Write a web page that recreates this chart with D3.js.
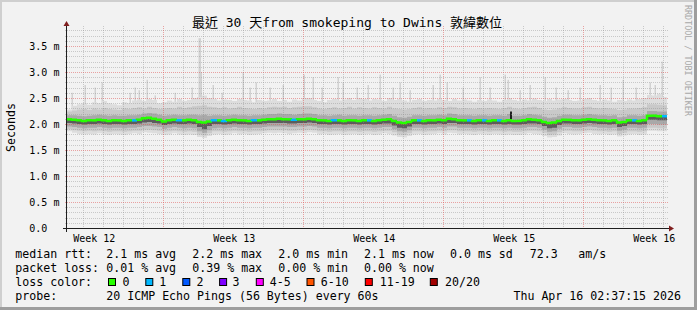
<!DOCTYPE html>
<html><head><meta charset="utf-8">
<script src="https://cdn.jsdelivr.net/npm/d3@7"></script>
<style>
html,body{margin:0;padding:0;background:#f2f2f2;}
svg{display:block;}
text{font-family:"DejaVu Sans Mono","Noto Sans CJK TC",monospace;}
</style></head><body>
<svg id="chart" width="697" height="310"></svg>
<script>
// ---------------- DATA ----------------
const titleText = "最近 30 天from smokeping to Dwins 敦緯數位";
const yTicks = [0, 0.5, 1.0, 1.5, 2.0, 2.5, 3.0, 3.5];
const yTickLabels = ["0.0", "0.5 m", "1.0 m", "1.5 m", "2.0 m", "2.5 m", "3.0 m", "3.5 m"];
const xLabelDays = [1.34, 8.34, 15.34, 22.34, 29.34];
const xLabels = ["Week 12", "Week 13", "Week 14", "Week 15", "Week 16"];
const weekStartDays = [4.8, 11.8, 18.8, 25.8];
const dayTickDays = [0.8,1.8,2.8,3.8,4.8,5.8,6.8,7.8,8.8,9.8,10.8,11.8,12.8,13.8,14.8,15.8,16.8,17.8,18.8,19.8,20.8,21.8,22.8,23.8,24.8,25.8,26.8,27.8,28.8,29.8];
const totalDays = 30;
const colDays = 0.25; // each data column = 6 h

// median rtt (ms), one value per 6 h column
const median = [2.09,2.08,2.07,2.06,2.07,2.07,2.08,2.07,2.06,2.07,
 2.07,2.06,2.07,2.07,2.08,2.11,2.12,2.10,2.08,2.05,
 2.07,2.08,2.07,2.07,2.08,2.07,2.04,2.03,2.05,2.07,
 2.07,2.06,2.07,2.08,2.07,2.07,2.06,2.07,2.07,2.08,
 2.09,2.09,2.10,2.09,2.09,2.08,2.09,2.09,2.10,2.09,
 2.07,2.07,2.06,2.07,2.07,2.06,2.07,2.07,2.06,2.07,
 2.07,2.06,2.07,2.08,2.09,2.06,2.03,2.02,2.04,2.07,
 2.07,2.06,2.07,2.07,2.08,2.07,2.10,2.09,2.07,2.07,
 2.07,2.06,2.07,2.07,2.06,2.07,2.07,2.06,2.07,2.06,
 2.06,2.07,2.09,2.08,2.07,2.04,2.02,2.03,2.06,2.08,
 2.08,2.07,2.07,2.08,2.09,2.08,2.07,2.07,2.06,2.07,
 2.03,2.04,2.07,2.07,2.06,2.07,2.16,2.16,2.15,2.15];

// packet loss class per column (index into lossColors)
const loss = [0,0,0,0,0,0,0,0,0,0, 0,0,0,1,0,0,0,0,0,0,
 0,0,1,0,0,0,0,0,0,1, 0,1,0,0,0,0,0,1,0,0,
 0,0,0,0,0,1,0,0,0,0, 0,0,0,1,0,0,0,0,0,0,
 1,0,0,0,0,0,0,0,0,0, 1,0,0,0,0,0,0,0,0,0,
 1,0,0,1,0,0,1,0,0,0, 0,0,0,0,0,0,0,0,0,0,
 0,0,0,0,0,0,0,0,0,0, 0,0,0,1,0,0,0,0,0,1];

// smoke envelopes (ms)
const smokeTop1 = [2.28,2.35,2.38,2.40,2.37,2.42,2.40,2.44,2.40,2.38,
 2.36,2.42,2.40,2.45,2.47,2.44,2.48,2.46,2.40,2.42,
 2.45,2.43,2.48,2.44,2.46,2.50,2.52,2.55,2.50,2.48,
 2.45,2.47,2.46,2.44,2.48,2.46,2.45,2.42,2.46,2.44,
 2.45,2.48,2.44,2.46,2.43,2.47,2.45,2.50,2.50,2.46,
 2.44,2.42,2.46,2.48,2.45,2.47,2.50,2.46,2.50,2.48,
 2.45,2.48,2.47,2.44,2.50,2.46,2.48,2.45,2.43,2.46,
 2.48,2.44,2.46,2.45,2.48,2.46,2.44,2.48,2.45,2.47,
 2.45,2.43,2.46,2.44,2.47,2.45,2.43,2.46,2.50,2.46,
 2.44,2.47,2.45,2.49,2.46,2.44,2.48,2.45,2.47,2.48,
 2.46,2.44,2.45,2.48,2.50,2.46,2.44,2.47,2.45,2.43,
 2.46,2.44,2.47,2.45,2.48,2.50,2.56,2.55,2.58,2.52];
const smokeTop2 = [2.24,2.26,2.28,2.29,2.27,2.30,2.28,2.31,2.29,2.28,
 2.27,2.30,2.29,2.31,2.32,2.30,2.33,2.31,2.29,2.30,
 2.31,2.30,2.33,2.31,2.32,2.34,2.35,2.36,2.33,2.32,
 2.31,2.32,2.30,2.31,2.33,2.31,2.30,2.29,2.31,2.30,
 2.32,2.33,2.32,2.33,2.31,2.32,2.33,2.34,2.34,2.32,
 2.30,2.29,2.31,2.32,2.30,2.31,2.33,2.30,2.32,2.31,
 2.30,2.32,2.31,2.30,2.33,2.30,2.29,2.28,2.29,2.31,
 2.32,2.30,2.31,2.30,2.32,2.31,2.33,2.32,2.30,2.31,
 2.30,2.29,2.31,2.30,2.31,2.30,2.29,2.31,2.33,2.30,
 2.29,2.31,2.32,2.33,2.31,2.28,2.27,2.28,2.30,2.32,
 2.31,2.30,2.30,2.32,2.33,2.31,2.30,2.31,2.30,2.29,
 2.27,2.28,2.30,2.30,2.31,2.32,2.38,2.38,2.37,2.36];
const smokeTop3 = [2.17,2.17,2.16,2.15,2.16,2.17,2.18,2.17,2.16,2.17,
 2.16,2.16,2.17,2.17,2.18,2.20,2.21,2.20,2.18,2.16,
 2.17,2.18,2.17,2.17,2.18,2.18,2.17,2.18,2.16,2.17,
 2.17,2.16,2.17,2.18,2.17,2.17,2.16,2.17,2.17,2.18,
 2.19,2.19,2.20,2.19,2.19,2.18,2.19,2.20,2.20,2.19,
 2.17,2.17,2.16,2.17,2.18,2.16,2.17,2.17,2.16,2.17,
 2.17,2.16,2.17,2.18,2.19,2.16,2.13,2.12,2.14,2.17,
 2.17,2.16,2.17,2.17,2.18,2.17,2.20,2.19,2.17,2.17,
 2.17,2.16,2.17,2.17,2.16,2.17,2.17,2.16,2.19,2.16,
 2.16,2.17,2.19,2.18,2.17,2.14,2.12,2.13,2.16,2.18,
 2.18,2.17,2.17,2.18,2.19,2.18,2.17,2.17,2.16,2.17,
 2.13,2.14,2.17,2.17,2.16,2.17,2.25,2.25,2.24,2.24];
const smokeBot4 = [2.02,2.01,2.00,1.99,2.00,2.00,2.01,2.00,1.99,2.00,
 2.00,1.99,2.00,2.00,2.01,2.03,2.04,2.02,2.01,1.98,
 2.00,2.01,2.00,2.00,2.01,2.00,1.94,1.90,1.96,2.00,
 2.00,1.99,2.00,2.01,2.00,2.00,1.99,2.00,2.00,2.01,
 2.02,2.02,2.02,2.02,2.01,2.01,2.02,2.02,2.03,2.02,
 2.00,2.00,1.99,2.00,2.00,1.99,2.00,2.00,1.99,2.00,
 2.00,1.99,2.00,2.01,2.01,1.97,1.93,1.92,1.95,2.00,
 2.00,1.99,2.00,2.00,2.01,2.00,2.02,2.02,2.00,2.00,
 2.00,1.99,2.00,2.00,1.99,2.00,2.00,1.99,2.00,1.99,
 1.99,2.00,2.01,2.01,2.00,1.96,1.92,1.93,1.98,2.01,
 2.01,2.00,2.00,2.01,2.02,2.01,2.00,2.00,1.99,2.00,
 1.94,1.96,2.00,2.00,1.99,2.00,2.08,2.08,2.07,2.07];
const smokeBot3 = [1.95,1.94,1.93,1.92,1.93,1.93,1.94,1.93,1.92,1.93,
 1.93,1.92,1.93,1.93,1.94,1.96,1.96,1.95,1.94,1.91,
 1.93,1.94,1.93,1.92,1.93,1.92,1.86,1.83,1.88,1.92,
 1.93,1.92,1.93,1.94,1.93,1.93,1.92,1.93,1.93,1.94,
 1.95,1.95,1.95,1.95,1.94,1.94,1.95,1.95,1.96,1.95,
 1.93,1.93,1.92,1.93,1.93,1.92,1.93,1.93,1.92,1.93,
 1.93,1.92,1.93,1.94,1.94,1.90,1.86,1.85,1.88,1.93,
 1.93,1.92,1.93,1.93,1.94,1.93,1.95,1.95,1.93,1.93,
 1.93,1.92,1.93,1.93,1.92,1.93,1.93,1.92,1.93,1.92,
 1.92,1.93,1.94,1.94,1.93,1.89,1.85,1.86,1.91,1.94,
 1.94,1.93,1.93,1.94,1.95,1.94,1.93,1.93,1.92,1.93,
 1.87,1.89,1.93,1.93,1.92,1.93,2.00,2.00,1.99,1.99];
const smokeBot2 = [1.90,1.88,1.87,1.86,1.87,1.86,1.87,1.86,1.85,1.86,
 1.86,1.85,1.86,1.87,1.87,1.89,1.89,1.88,1.87,1.85,
 1.86,1.87,1.86,1.85,1.86,1.85,1.80,1.78,1.82,1.86,
 1.86,1.85,1.86,1.87,1.86,1.86,1.85,1.86,1.86,1.87,
 1.88,1.88,1.88,1.88,1.87,1.87,1.88,1.88,1.89,1.88,
 1.86,1.86,1.85,1.86,1.86,1.85,1.86,1.86,1.85,1.86,
 1.86,1.85,1.86,1.87,1.87,1.84,1.80,1.79,1.82,1.86,
 1.86,1.85,1.86,1.86,1.87,1.86,1.88,1.88,1.86,1.86,
 1.86,1.85,1.86,1.86,1.85,1.86,1.86,1.85,1.86,1.85,
 1.85,1.86,1.87,1.87,1.86,1.83,1.79,1.80,1.84,1.87,
 1.87,1.86,1.86,1.87,1.88,1.87,1.86,1.86,1.85,1.86,
 1.81,1.83,1.86,1.86,1.85,1.86,1.93,1.93,1.92,1.92];
const smokeBot1 = [1.86,1.83,1.81,1.80,1.81,1.80,1.82,1.80,1.79,1.81,
 1.80,1.79,1.81,1.82,1.81,1.84,1.83,1.82,1.81,1.79,
 1.80,1.82,1.80,1.79,1.80,1.79,1.75,1.73,1.77,1.80,
 1.81,1.79,1.80,1.82,1.80,1.81,1.79,1.80,1.81,1.82,
 1.83,1.82,1.83,1.82,1.81,1.82,1.83,1.82,1.84,1.83,
 1.80,1.81,1.79,1.80,1.81,1.79,1.80,1.81,1.79,1.80,
 1.81,1.79,1.80,1.82,1.81,1.78,1.75,1.74,1.77,1.80,
 1.81,1.79,1.80,1.81,1.82,1.80,1.83,1.82,1.80,1.81,
 1.80,1.79,1.81,1.80,1.79,1.81,1.80,1.79,1.80,1.79,
 1.79,1.80,1.82,1.81,1.80,1.77,1.74,1.75,1.78,1.82,
 1.81,1.80,1.81,1.82,1.83,1.81,1.80,1.81,1.79,1.80,
 1.76,1.78,1.80,1.81,1.79,1.80,1.87,1.87,1.86,1.86];

// isolated max-ping spikes (day position, top in ms)
const spikeDays = [0.25,0.9,1.4,1.75,3.15,3.4,3.6,4.0,4.4,5.4,6.25,6.6,6.7,7.3,7.75,8.8,9.15,9.45,10.15,10.8,11.85,12.3,12.75,13.55,13.8,14.5,15.05,15.65,16.3,16.65,17.15,18.3,18.65,19.0,19.8,20.65,21.15,21.9,22.05,22.65,23.15,23.9,24.45,25.05,25.65,26.65,27.2,27.8,28.45,29.15,29.4,29.75];
const spikeTops = [2.6,2.75,2.7,2.8,2.6,2.7,2.65,2.85,2.55,2.6,2.7,3.65,3.0,2.75,2.6,3.0,2.7,2.8,2.7,2.75,2.95,2.9,2.7,2.9,2.8,2.7,2.75,2.95,2.7,2.8,2.65,2.75,2.95,2.8,2.7,2.9,2.7,2.95,2.85,2.65,2.75,2.9,2.7,2.65,2.7,2.75,2.7,2.85,2.7,2.8,2.75,3.2];
const darkSpikeDays = [22.15];
const darkSpikeTops = [2.24];
const darkSpikeBots = [2.08];

const lossLabels = ["0", "1", "2", "3", "4-5", "6-10", "11-19", "20/20"];
const lossColors = ["#26ff00", "#00b8ff", "#0059ff", "#7e00ff", "#ff00ff", "#ff5500", "#ff0000", "#a10000"];

const rttRow = ["median rtt:", "2.1 ms avg", "2.2 ms max", "2.0 ms min", "2.1 ms now", "0.0 ms sd", "72.3", "am/s"];
const lossRow = ["packet loss:", "0.01 % avg", "0.39 % max", "0.00 % min", "0.00 % now"];
const probeRow = ["probe:", "20 ICMP Echo Pings (56 Bytes) every 60s", "Thu Apr 16 02:37:15 2026"];
const sideText = "RRDTOOL / TOBI OETIKER";

// ---------------- DRAW ----------------
const svg = d3.select("#chart");
const W = 697, H = 310;
const X0 = 67, X1 = 667, Y0 = 228, Y1 = 28;
const x = d3.scaleLinear().domain([0, totalDays]).range([X0, X1]);
const y = d3.scaleLinear().domain([0, (Y0 - Y1) / 52]).range([Y0, Y1]);

// frame
svg.append("rect").attr("width", W).attr("height", H).attr("fill", "#f2f2f2");
svg.append("path").attr("d", `M0,0H${W}V2H2V${H}H0Z`).attr("fill", "#cfcfcf");
svg.append("path").attr("d", `M${W},${H}H0V${H-3}H${W-3}V0H${W}Z`).attr("fill", "#9e9e9e");

const n = median.length;
const idx = d3.range(n + 1);
const cl = i => Math.min(i, n - 1);
const band = (top, bot) => d3.area().curve(d3.curveStepAfter)
  .x(i => x(i * colDays)).y0(i => y(bot[cl(i)])).y1(i => y(top[cl(i)]))(idx);

const gSmoke = svg.append("g");
// spikes underneath
gSmoke.selectAll("rect.sp").data(spikeDays).join("rect")
  .attr("x", (d) => Math.round(x(d)) - 0.5).attr("width", (d, i) => spikeTops[i] > 3.3 ? 2.5 : 1.5)
  .attr("y", (d, i) => y(spikeTops[i])).attr("height", (d, i) => y(2.3) - y(spikeTops[i]))
  .attr("fill", "#d2d2d2");
gSmoke.append("path").attr("d", band(smokeTop1, smokeBot1)).attr("fill", "#dddddd");
gSmoke.append("path").attr("d", band(smokeTop2, smokeBot2)).attr("fill", "#c9c9c9");
gSmoke.append("path").attr("d", band(smokeTop3, smokeBot3)).attr("fill", "#a9a9a9");
gSmoke.append("path").attr("d", band(median, smokeBot4)).attr("fill", "#5c5c5c");
gSmoke.selectAll("rect.ds").data(darkSpikeDays).join("rect")
  .attr("x", d => Math.round(x(d))).attr("width", 2)
  .attr("y", (d, i) => y(darkSpikeTops[i])).attr("height", (d, i) => y(darkSpikeBots[i]) - y(darkSpikeTops[i]))
  .attr("fill", "#202020");

// grid
const gGrid = svg.append("g").attr("shape-rendering", "crispEdges");
const minorY = d3.range(1, 39).map(v => v / 10).filter(v => Math.abs(v * 2 - Math.round(v * 2)) > 1e-6);
const gridCol = "rgba(143,143,143,0.42)", mgridCol = "rgba(222,79,79,0.5)";
minorY.forEach(v => {
  const yy = Math.round(y(v)) + 0.5;
  gGrid.append("line").attr("x1", X0 - 2).attr("x2", X1 + 2).attr("y1", yy).attr("y2", yy)
    .attr("stroke", gridCol).attr("stroke-dasharray", "1,1");
});
dayTickDays.filter(d => !weekStartDays.includes(d)).forEach(d => {
  const xx = Math.round(x(d)) + 0.5;
  gGrid.append("line").attr("x1", xx).attr("x2", xx).attr("y1", Y1 - 2).attr("y2", Y0 + 2)
    .attr("stroke", gridCol).attr("stroke-dasharray", "1,1");
});
yTicks.filter(v => v > 0).forEach(v => {
  const yy = Math.round(y(v)) + 0.5;
  gGrid.append("line").attr("x1", X0 - 2).attr("x2", X1 + 2).attr("y1", yy).attr("y2", yy)
    .attr("stroke", mgridCol).attr("stroke-dasharray", "1,1");
});
weekStartDays.forEach(d => {
  const xx = Math.round(x(d)) + 0.5;
  gGrid.append("line").attr("x1", xx).attr("x2", xx).attr("y1", Y1 - 2).attr("y2", Y0 + 2)
    .attr("stroke", mgridCol).attr("stroke-dasharray", "1,1");
});

// median line coloured by loss
const gMed = svg.append("g");
median.forEach((m, k) => {
  const prev = k > 0 ? median[k - 1] : m;
  gMed.append("path")
    .attr("d", `M${x(k * colDays)},${y(prev)}V${y(m)}H${x((k + 1) * colDays)}`)
    .attr("fill", "none").attr("stroke", lossColors[loss[k]]).attr("stroke-width", 2.5);
});

// axes lines + arrows
const axisCol = "#1f1f1f", arrowCol = "#801f1f";
svg.append("line").attr("x1", X0 - 4).attr("x2", X1 + 4).attr("y1", Y0 + 0.5).attr("y2", Y0 + 0.5).attr("stroke", axisCol);
svg.append("line").attr("x1", X0 - 0.5).attr("x2", X0 - 0.5).attr("y1", Y0 + 4).attr("y2", Y1 - 4).attr("stroke", axisCol);
svg.append("path").attr("d", `M${X1 + 2},${Y0 - 2.5}L${X1 + 7},${Y0 + 0.5}L${X1 + 2},${Y0 + 3.5}Z`).attr("fill", arrowCol);
svg.append("path").attr("d", `M${X0 - 3.5},${Y1 - 2}L${X0 - 0.5},${Y1 - 7}L${X0 + 2.5},${Y1 - 2}Z`).attr("fill", arrowCol);

// y axis labels via d3 axis
const yAxis = d3.axisLeft(y).tickValues(yTicks).tickFormat((d, i) => yTickLabels[i]).tickSize(0);
const gy = svg.append("g").attr("transform", `translate(${X0},0)`).call(yAxis);
gy.select(".domain").remove();
gy.selectAll("text").attr("text-anchor", "start").attr("x", 29.3 - X0).attr("dy", "0.36em")
  .attr("font-family", "DejaVu Sans Mono").attr("font-size", 10).attr("fill", "#000");

// x axis labels via d3 axis
const xAxis = d3.axisBottom(x).tickValues(xLabelDays).tickFormat((d, i) => xLabels[i]).tickSize(0);
const gx = svg.append("g").attr("transform", `translate(0,${Y0})`).call(xAxis);
gx.select(".domain").remove();
gx.selectAll("text").attr("y", 13.7).attr("dy", null)
  .attr("font-family", "DejaVu Sans Mono").attr("font-size", 10).attr("fill", "#000");

// title
svg.append("text").attr("x", 347).attr("y", 26.5).attr("text-anchor", "middle")
  .attr("font-size", 13).attr("fill", "#000").text(titleText);

// vertical label
svg.append("text").attr("transform", "translate(14.5,127.5) rotate(-90)").attr("text-anchor", "middle")
  .attr("font-size", 11.6).attr("fill", "#000").text("Seconds");

// side watermark
svg.append("text").attr("transform", "translate(685,5) rotate(90)").attr("text-anchor", "start")
  .attr("font-size", 8.4).attr("fill", "#a8a8a8").text(sideText);

// legend
const LF = 11.6;
const leg = svg.append("g").attr("font-size", LF).attr("fill", "#000");
const rowY = [258.3, 272.1, 286, 299.9];
const rttX = [15.3, 106.3, 192.3, 278.3, 364, 450, 529.7, 578.3];
rttRow.forEach((t, i) => leg.append("text").attr("x", rttX[i]).attr("y", rowY[0]).text(t));
const lossX = [15.3, 106.3, 192.3, 278.3, 364];
lossRow.forEach((t, i) => leg.append("text").attr("x", lossX[i]).attr("y", rowY[1]).text(t));
leg.append("text").attr("x", 15.3).attr("y", rowY[2]).text("loss color:");
const boxX = [108.5, 145.8, 182.8, 219.6, 256.3, 307, 365.3, 430.3];
const boxLabelX = [122.4, 159.2, 196.4, 232.4, 269.8, 320.8, 379.8, 445.1];
lossLabels.forEach((t, i) => {
  leg.append("rect").attr("x", boxX[i]).attr("y", 278.5).attr("width", 7).attr("height", 7)
    .attr("fill", lossColors[i]).attr("stroke", "#000").attr("stroke-width", 1);
  leg.append("text").attr("x", boxLabelX[i]).attr("y", rowY[2]).text(t);
});
leg.append("text").attr("x", 15.3).attr("y", rowY[3]).text(probeRow[0]);
leg.append("text").attr("x", 106.3).attr("y", rowY[3]).text(probeRow[1]);
leg.append("text").attr("x", 681).attr("y", rowY[3]).attr("text-anchor", "end").text(probeRow[2]);
</script>
</body></html>
